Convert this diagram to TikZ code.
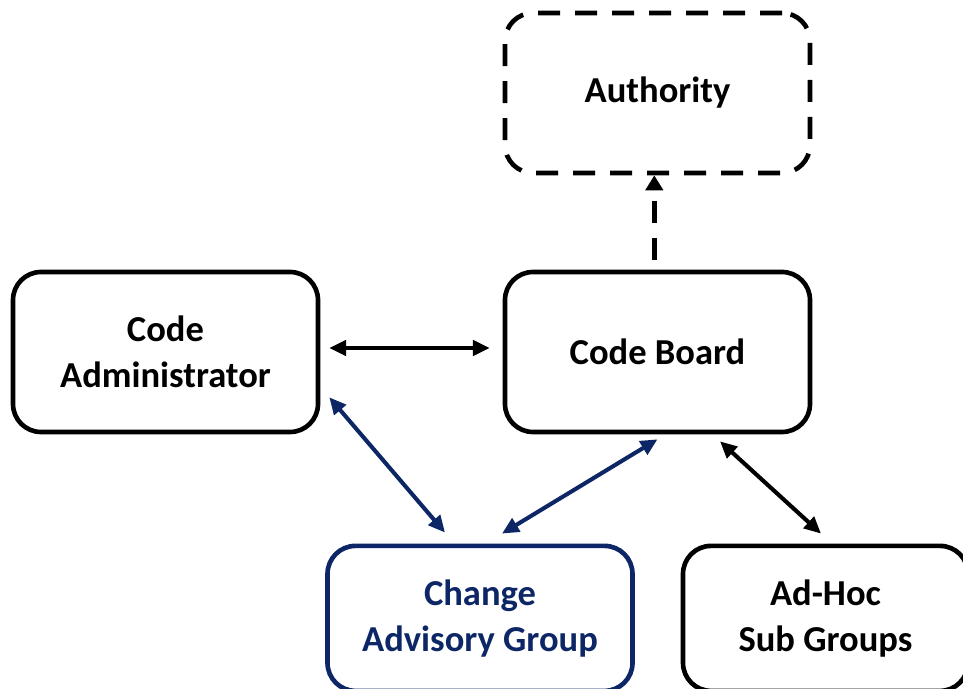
\documentclass[tikz,border=0pt]{standalone}
\usepackage{fontspec}
\setmainfont{Carlito}
\usetikzlibrary{arrows.meta,calc}
\definecolor{AdvisoryBlue}{RGB}{13,38,102}

\begin{document}
\begin{tikzpicture}[
        %Environment Config
        font=\fontsize{26}{32.7}\selectfont\bfseries,
        MyBox/.style={%Style for the boxes
            draw,
            rounded corners=0.7cm,
            line width=3.3pt,
            minimum width=7.625cm,
            minimum height=4cm,
            align=center
        },
        LowBox/.style={%Style for the lower boxes
            MyBox,
            minimum height=3.625cm
        },
        MyDash/.style={%Style for the dashed lines
            dash pattern=on 0.55cm off 0.375cm
        },
        MyArrow/.style={%Style for the links
            {Triangle[length=0.42cm,width=0.38cm]}-{Triangle[length=0.42cm,width=0.38cm]},
            line width=2.9pt
        }
    ]
    \useasboundingbox (0,0) rectangle (24.075,17.2);

    %%%%%%%%%%%%%%%%%%%%%%%%%%%%%%%%%%%%%%%%%%%%%%%%%%%%%%%%%%%%%%%%%%%%%%%%%%%%
    % BOXES
    %%%%%%%%%%%%%%%%%%%%%%%%%%%%%%%%%%%%%%%%%%%%%%%%%%%%%%%%%%%%%%%%%%%%%%%%%%%%
    % upper part
    \node[MyBox, MyDash] (Auth) at (16.4375,14.875) {Authority};
    \node[MyBox] (Admin) at (4.1375,8.4) {Code\\Administrator};
    \node[MyBox] (Board) at (16.4375,8.4) {Code Board};

    % lower part
    \node[LowBox, draw=AdvisoryBlue, text=AdvisoryBlue] (CAG) at (12.0,1.74) {Change\\Advisory Group};
    \node[LowBox, minimum width=7.125cm] (AdHoc) at (20.6375,1.74) {Ad-Hoc\\Sub Groups};

    %%%%%%%%%%%%%%%%%%%%%%%%%%%%%%%%%%%%%%%%%%%%%%%%%%%%%%%%%%%%%%%%%%%%%%%%%%%%
    % LINKS
    %%%%%%%%%%%%%%%%%%%%%%%%%%%%%%%%%%%%%%%%%%%%%%%%%%%%%%%%%%%%%%%%%%%%%%%%%%%%
    \draw[MyArrow] ($(Admin.east)+(0.225,0.1)$) -- ($(Board.west)+(-0.325,0.1)$);
    \draw[-{Triangle[length=0.375cm,width=0.43cm]}, line width=3.5pt, MyDash, shorten <=0.25cm]
        ($(Board.north)+(-0.08,0)$) -- ($(Auth.south)+(-0.08,0)$);
    \draw[MyArrow, AdvisoryBlue] ($(Admin.south east)+(0.225,0.925)$) -- ($(CAG.north)+(-0.875,0.275)$);
    \draw[MyArrow, AdvisoryBlue] ($(Board.south)+(0,-0.125)$) -- ($(CAG.north)+(0.55,0.25)$);
    \draw[MyArrow] ($(Board.south)+(1.5625,-0.175)$) -- ($(AdHoc.north)+(-0.1125,0.25)$);
\end{tikzpicture}
\end{document}
